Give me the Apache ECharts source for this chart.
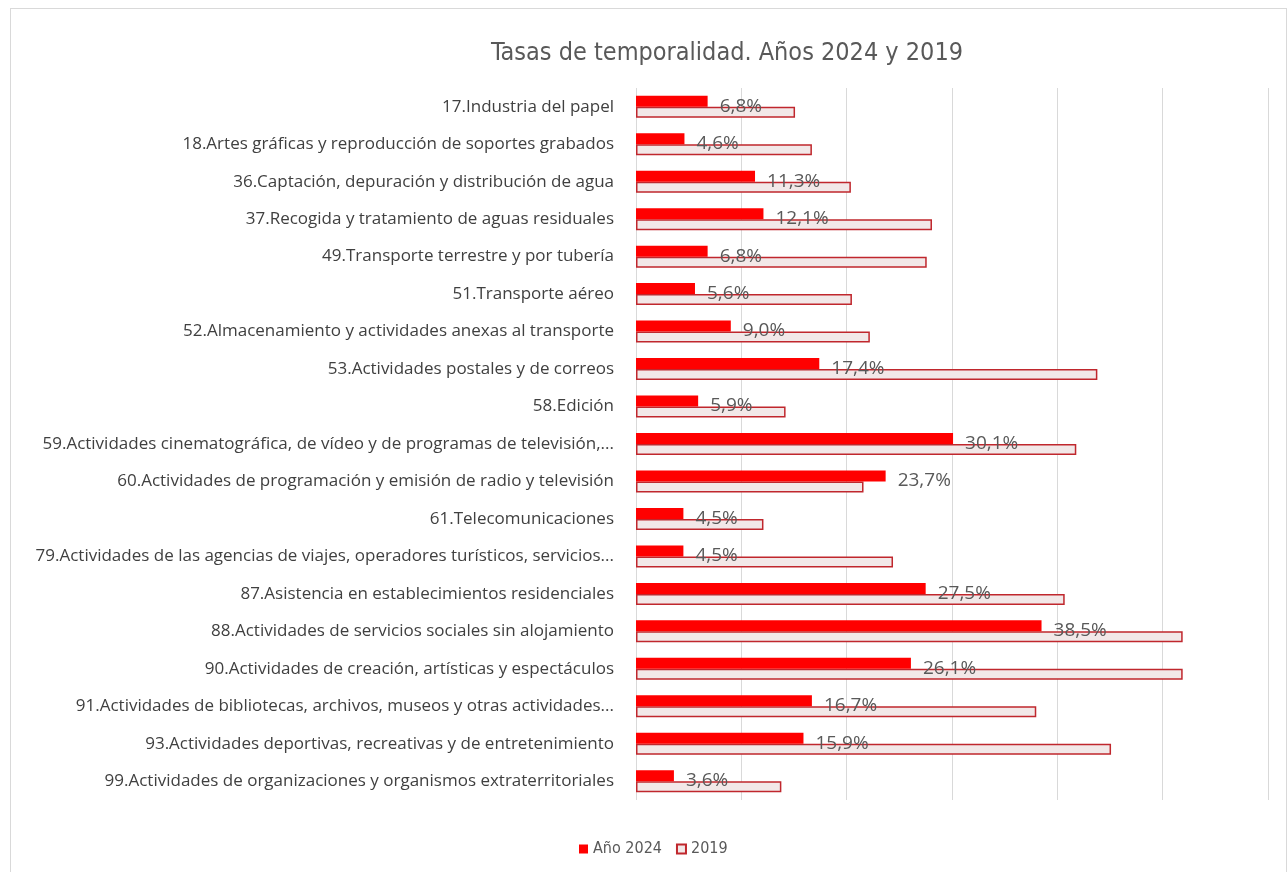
<!DOCTYPE html>
<html>
<head>
<meta charset="utf-8">
<script src="https://cdn.jsdelivr.net/npm/echarts@6/dist/echarts.min.js"></script>
<style>
    html, body { margin: 0; padding: 0; background: #fff; }
    #chart { width: 1288px; height: 872px; }
    #frame { position: absolute; left: 10px; top: 8px; width: 1275px; height: 880px; border: 1px solid #d9d9d9; pointer-events: none; }
</style>
</head>
<body>
<div id="chart"></div>
<div id="frame"></div>
<script>
// categorias de cima para baixo
var categories = [
    "17.Industria del papel",
    "18.Artes gráficas y reproducción de soportes grabados",
    "36.Captación, depuración y distribución de agua",
    "37.Recogida y tratamiento de aguas residuales",
    "49.Transporte terrestre y por tubería",
    "51.Transporte aéreo",
    "52.Almacenamiento y actividades anexas al transporte",
    "53.Actividades postales y de correos",
    "58.Edición",
    "59.Actividades cinematográfica, de vídeo y de programas de televisión,...",
    "60.Actividades de programación y emisión de radio y televisión",
    "61.Telecomunicaciones",
    "79.Actividades de las agencias de viajes, operadores turísticos, servicios...",
    "87.Asistencia en establecimientos residenciales",
    "88.Actividades de servicios sociales sin alojamiento",
    "90.Actividades de creación, artísticas y espectáculos",
    "91.Actividades de bibliotecas, archivos, museos y otras actividades...",
    "93.Actividades deportivas, recreativas y de entretenimiento",
    "99.Actividades de organizaciones y organismos extraterritoriales"
];

var values2024 = [6.8, 4.6, 11.3, 12.1, 6.8, 5.6, 9.0, 17.4, 5.9, 30.1, 23.7, 4.5, 4.5, 27.5, 38.5, 26.1, 16.7, 15.9, 3.6];

// 2019 (sem rotulos)
var values2019 = [15.1, 16.7, 20.4, 28.1, 27.6, 20.5, 22.2, 43.8, 14.2, 41.8, 21.6, 12.1, 24.4, 40.7, 51.9, 51.9, 38.0, 45.1, 13.8];

var seriesNames = ["Año 2024", "2019"];

var narrowFont = "'Liberation Sans Narrow', 'DejaVu Sans Condensed', sans-serif";

var myChart = echarts.init(document.getElementById("chart"));

var option = {
    animation: false,
    title: {
        text: "Tasas de temporalidad. Años 2024 y 2019",
        left: 722,
        top: 36,
        textAlign: "center",
        textStyle: {
            fontFamily: narrowFont,
            fontSize: 25,
            fontWeight: "normal",
            color: "#595959"
        }
    },
    legend: {
        data: seriesNames,
        bottom: 10,
        left: 574,
        itemWidth: 9,
        itemHeight: 9,
        itemGap: 14,
        icon: "rect",
        textStyle: {
            fontFamily: narrowFont,
            fontSize: 16,
            color: "#595959"
        }
    },
    grid: {
        left: 636,
        right: 20,
        top: 88,
        bottom: 72,
        containLabel: false
    },
    xAxis: {
        type: "value",
        min: 0,
        max: 60,
        interval: 10,
        axisLabel: { show: false },
        axisLine: { show: false },
        axisTick: { show: false },
        splitLine: { lineStyle: { color: "#d9d9d9" } }
    },
    yAxis: {
        type: "category",
        inverse: true,
        data: categories,
        axisLine: { show: false },
        axisTick: { show: false },
        axisLabel: {
            margin: 22,
            fontFamily: "Open Sans",
            fontSize: 17,
            color: "#404040"
        }
    },
    series: [
        {
            name: seriesNames[0],
            type: "bar",
            data: values2024,
            barWidth: 11,
            barGap: "0%",
            itemStyle: { color: "#ff0000" },
            label: {
                show: true,
                position: "right",
                distance: 12,
                offset: [0, 5],
                fontFamily: "Open Sans",
                fontSize: 19,
                color: "#595959",
                formatter: function (p) {
                    return p.value.toFixed(1).replace(".", ",") + "%";
                }
            },
            z: 3
        },
        {
            name: seriesNames[1],
            type: "bar",
            data: values2019,
            barWidth: 11,
            itemStyle: {
                color: "#f2e8e8",
                borderColor: "#c0272d",
                borderWidth: 1.5
            },
            z: 2
        }
    ]
};

myChart.setOption(option);
</script>
</body>
</html>
